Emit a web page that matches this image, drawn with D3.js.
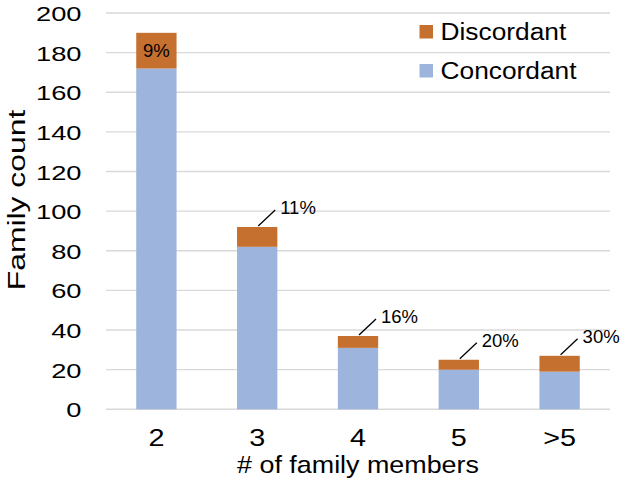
<!DOCTYPE html>
<html>
<head>
<meta charset="utf-8">
<script src="https://cdn.jsdelivr.net/npm/d3@7"></script>
<style>
  html, body { margin: 0; padding: 0; background: #fff; }
  svg { display: block; font-family: "Liberation Sans", Arial, Helvetica, sans-serif; }
</style>
</head>
<body>
<svg id="chart" width="622" height="482"></svg>
<script>
// ---- data ----
const categories = ["2", "3", "4", "5", ">5"];
const concordant = [172, 82, 31, 20, 19];
const discordant = [18, 10, 6, 5, 8];
const pctLabels = ["9%", "11%", "16%", "20%", "30%"];
const yTicks = [0, 20, 40, 60, 80, 100, 120, 140, 160, 180, 200];
const seriesNames = ["Discordant", "Concordant"];

// ---- layout ----
const plot = { left: 106, right: 610, top: 13, bottom: 409.3 };
const colors = { Concordant: "#9DB4DC", Discordant: "#C5702F" };

const svg = d3.select("#chart");

const x = d3.scaleBand().domain(categories)
  .range([plot.left, plot.right]).paddingInner(0.6).paddingOuter(0.3);
const y = d3.scaleLinear().domain([0, 200]).range([plot.bottom, plot.top]);

// gridlines
svg.append("g").selectAll("line").data(yTicks).join("line")
  .attr("x1", plot.left).attr("x2", plot.right)
  .attr("y1", d => y(d)).attr("y2", d => y(d))
  .attr("stroke", "#D9D9D9").attr("stroke-width", 1.4);

// stacked bars
const rows = categories.map((c, i) => ({ cat: c, Concordant: concordant[i], Discordant: discordant[i] }));
const stack = d3.stack().keys(["Concordant", "Discordant"])(rows);

svg.append("g").selectAll("g").data(stack).join("g")
  .attr("fill", s => colors[s.key])
  .selectAll("rect").data(s => s).join("rect")
  .attr("x", d => x(d.data.cat))
  .attr("width", x.bandwidth())
  .attr("y", d => y(d[1]))
  .attr("height", d => y(d[0]) - y(d[1]));

// y axis
const yAxis = svg.append("g").attr("transform", `translate(${plot.left},0)`)
  .call(d3.axisLeft(y).tickValues(yTicks).tickSize(0).tickPadding(0));
yAxis.select(".domain").remove();
yAxis.selectAll("text")
  .attr("x", null).attr("dy", null)
  .attr("transform", "translate(-24.5,7.5) scale(1.3,1)")
  .attr("font-size", 21).attr("fill", "#000")
  .attr("font-family", '"Liberation Sans", Arial, sans-serif')
  .attr("text-anchor", "end");

// x axis
const xAxis = svg.append("g").attr("transform", `translate(0,${plot.bottom})`)
  .call(d3.axisBottom(x).tickSize(0).tickPadding(0));
xAxis.select(".domain").remove();
xAxis.selectAll("text")
  .attr("y", null).attr("dy", null)
  .attr("transform", "translate(0,36.5) scale(1.2,1)")
  .attr("font-size", 24).attr("fill", "#000")
  .attr("font-family", '"Liberation Sans", Arial, sans-serif')
  .attr("text-anchor", "middle");

// axis titles
svg.append("text")
  .attr("transform", `translate(${(plot.left + plot.right) / 2},473) scale(1.12,1)`)
  .attr("text-anchor", "middle").attr("font-size", 24).attr("fill", "#000")
  .text("# of family members");

svg.append("text")
  .attr("transform", "translate(25,200) rotate(-90) scale(1.3,1)")
  .attr("text-anchor", "middle").attr("font-size", 24.5).attr("fill", "#000")
  .text("Family count");

// percentage labels
const total = (i) => concordant[i] + discordant[i];
categories.forEach((c, i) => {
  const cx = x(c) + x.bandwidth() / 2;
  const top = y(total(i));
  const segH = y(concordant[i]) - top;
  if (segH > 25) {
    svg.append("text")
      .attr("x", cx).attr("y", (top + y(concordant[i])) / 2 + 6.5)
      .attr("text-anchor", "middle").attr("font-size", 18.5).attr("fill", "#000")
      .text(pctLabels[i]);
  } else {
    svg.append("line")
      .attr("x1", cx + 1).attr("y1", top - 1)
      .attr("x2", cx + 18).attr("y2", top - 17)
      .attr("stroke", "#000").attr("stroke-width", 1.3);
    svg.append("text")
      .attr("x", cx + 23).attr("y", top - 13)
      .attr("font-size", 18.5).attr("fill", "#000")
      .text(pctLabels[i]);
  }
});

// legend
const legend = svg.append("g").selectAll("g").data(seriesNames).join("g")
  .attr("transform", (d, i) => `translate(419.5,${25 + i * 39})`);
legend.append("rect").attr("width", 13.5).attr("height", 13.5)
  .attr("fill", d => colors[d]);
legend.append("text")
  .attr("transform", "translate(21,15) scale(1.12,1)")
  .attr("font-size", 23.5).attr("fill", "#000")
  .text(d => d);
</script>
</body>
</html>
